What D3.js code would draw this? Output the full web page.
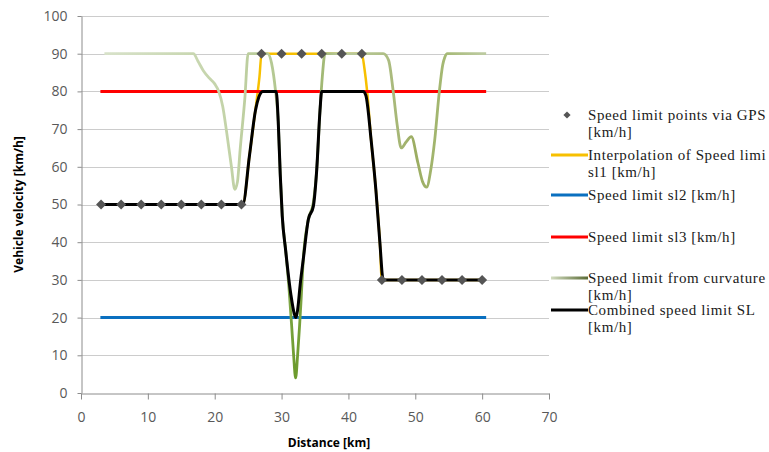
<!DOCTYPE html>
<html>
<head>
<meta charset="utf-8">
<script src="https://cdn.jsdelivr.net/npm/d3@7"></script>
<style>
  body { margin: 0; background: #fff; }
  svg { display: block; }
</style>
</head>
<body>
<div id="chart"></div>
<script>
// speed limit points picked up via GPS
const gpsKm  = [3, 6, 9, 12, 15, 18, 21, 24, 27, 30, 33, 36, 39, 42, 45, 48, 51, 54, 57, 60];
const gpsKmh = [50, 50, 50, 50, 50, 50, 50, 50, 90, 90, 90, 90, 90, 90, 30, 30, 30, 30, 30, 30];

// interpolation of the GPS points (sl1)
const sl1Km  = [3, 24.2, 25.2, 26.3, 26.7, 27, 42, 42.4, 42.8, 43.4, 44.1, 44.7, 45, 60];
const sl1Kmh = [50, 50, 63, 78, 84, 90, 90, 86, 80, 67, 54, 40, 30, 30];

// constant limits sl2 / sl3
const sl2Km  = [2.9, 60.6];
const sl2Kmh = [20, 20];
const sl3Km  = [2.9, 60.6];
const sl3Kmh = [80, 80];

// speed limit from curvature
const curvKm  = [3.5, 16.8, 17.5, 18.3, 19.2, 20, 20.6, 21.2, 21.8, 22.5, 23, 23.4, 23.8, 24.5, 25, 27.9, 28.5, 29.1,
                 29.5, 29.8, 30.1, 30.6, 31.1, 31.5, 31.8, 32.1, 32.4, 32.7, 32.9, 33.25, 34, 34.75, 35.25, 35.75, 36.1, 36.5,
                 45.2, 46, 46.7, 47.3, 47.9, 48.6, 49.4, 50.4, 51.1, 51.7, 52.3, 52.9, 53.6, 54.1, 54.4, 54.8, 60.6];
const curvKmh = [90, 90, 88, 85.5, 83.5, 82, 80, 76, 69, 60, 54, 56, 64.5, 78, 90, 90, 87.5, 80,
                 72, 58, 47, 38, 28, 18, 10, 4, 10, 18, 24, 35.5, 46, 50.5, 59, 75, 84, 90,
                 90, 88.3, 80, 71, 65, 66.5, 68, 61, 56, 54.6, 59, 67, 80, 87, 89, 90, 90];

// combined speed limit SL
const slKm  = [3, 24.2, 25.2, 26.1, 26.6, 27.2, 29.2, 29.5, 29.8, 30.1, 30.6, 31.4, 31.9, 32.15, 32.4, 32.8, 33.25, 34,
               34.75, 35.25, 35.75, 36, 42.2, 42.6, 43.4, 44.1, 44.7, 45.2, 60];
const slKmh = [50, 50, 63, 75, 78.5, 80, 80, 72, 58, 47, 38, 26, 21, 20, 22, 29, 35.5, 46,
               49.5, 59, 75, 80, 80, 79, 67, 54, 40, 30, 30];

const xTicks = [0, 10, 20, 30, 40, 50, 60, 70];
const yTicks = [0, 10, 20, 30, 40, 50, 60, 70, 80, 90, 100];

const legendLabels = [
  ["Speed limit points via GPS", "[km/h]"],
  ["Interpolation of Speed limi", "sl1 [km/h]"],
  ["Speed limit sl2 [km/h]"],
  ["Speed limit sl3 [km/h]"],
  ["Speed limit from curvature", "[km/h]"],
  ["Combined speed limit SL", "[km/h]"]
];

const width = 769, height = 452;

const x = d3.scaleLinear().domain([0, 70]).range([81, 549]);
const y = d3.scaleLinear().domain([0, 100]).range([393, 16]);

const svg = d3.select("#chart")
  .append("svg")
    .attr("width", width)
    .attr("height", height);

svg.append("rect").attr("width", width).attr("height", height).attr("fill", "#fff");

// gradient for the curvature line (pale on the left, dark around the sharp bend)
const defs = svg.append("defs");
const grad = defs.append("linearGradient")
  .attr("id", "curvGrad")
  .attr("gradientUnits", "userSpaceOnUse")
  .attr("x1", x(0)).attr("x2", x(70)).attr("y1", 0).attr("y2", 0);
[[3, "#d8e2ca"], [22, "#c3d3a8"], [29, "#b4c892"], [32, "#6b9a2b"], [35, "#98b266"], [39, "#bccb9e"],
 [45, "#b0c088"], [50, "#9cad62"], [54, "#a4b872"], [60, "#bccaa0"]]
  .forEach(([k, c]) => grad.append("stop").attr("offset", k / 70).attr("stop-color", c));

const legGrad = defs.append("linearGradient").attr("id", "legGrad");
legGrad.append("stop").attr("offset", 0).attr("stop-color", "#d2dcc0");
legGrad.append("stop").attr("offset", 1).attr("stop-color", "#5a6b35");

// horizontal gridlines
svg.append("g")
  .selectAll("line")
  .data(yTicks.filter(d => d > 0))
  .join("line")
    .attr("x1", x(0)).attr("x2", x(70))
    .attr("y1", d => Math.round(y(d)) + 0.5)
    .attr("y2", d => Math.round(y(d)) + 0.5)
    .attr("stroke", "#cccccc");

// axes
const xAxis = svg.append("g")
  .attr("transform", `translate(0,${Math.round(y(0)) + 0.5})`)
  .call(d3.axisBottom(x).tickValues(xTicks).tickSize(6).tickPadding(13).tickSizeOuter(0));
const yAxis = svg.append("g")
  .attr("transform", `translate(${Math.round(x(0)) + 0.5},0)`)
  .call(d3.axisLeft(y).tickValues(yTicks).tickSize(4).tickPadding(10).tickSizeOuter(0));

[xAxis, yAxis].forEach(g => {
  g.select(".domain").attr("stroke", "#8c8c8c");
  g.selectAll(".tick line").attr("stroke", "#8c8c8c");
  g.selectAll(".tick text")
    .attr("fill", "#595959")
    .style("font-family", "'Open Sans', sans-serif")
    .style("font-size", "14px");
});

// axis titles
svg.append("text")
  .attr("x", 329).attr("y", 447)
  .attr("text-anchor", "middle")
  .style("font-family", "'Open Sans', sans-serif")
  .style("font-size", "12px")
  .style("font-weight", "bold")
  .text("Distance [km]");

svg.append("text")
  .attr("transform", `translate(23,${(y(0) + y(100)) / 2}) rotate(-90)`)
  .attr("text-anchor", "middle")
  .style("font-family", "'Open Sans', sans-serif")
  .style("font-size", "12px")
  .style("font-weight", "bold")
  .text("Vehicle velocity [km/h]");

// series lines
const zip = (a, b) => a.map((d, i) => [d, b[i]]);
const line = d3.line()
  .x(d => x(d[0]))
  .y(d => y(d[1]))
  .curve(d3.curveMonotoneX);

const series = [
  { data: zip(sl1Km, sl1Kmh), color: "#f7c000", w: 2.5 },
  { data: zip(sl2Km, sl2Kmh), color: "#0a70c0", w: 3 },
  { data: zip(sl3Km, sl3Kmh), color: "#ff0000", w: 3 },
  { data: zip(curvKm, curvKmh), color: "url(#curvGrad)", w: 2.8 },
  { data: zip(slKm, slKmh), color: "#000000", w: 3 }
];

svg.append("g")
  .selectAll("path")
  .data(series)
  .join("path")
    .attr("d", d => line(d.data))
    .attr("fill", "none")
    .attr("stroke", d => d.color)
    .attr("stroke-width", d => d.w)
    .attr("stroke-linejoin", "round")
    .attr("stroke-linecap", "butt");

// GPS points (diamonds)
const diamond = d3.symbol(d3.symbolSquare, 50);
svg.append("g")
  .selectAll("path")
  .data(zip(gpsKm, gpsKmh))
  .join("path")
    .attr("d", diamond)
    .attr("transform", d => `translate(${x(d[0])},${y(d[1])}) rotate(45)`)
    .attr("fill", "#555555");

// legend
const legY = [115, 155, 195, 237, 278, 310];
const legColors = ["#555555", "#f7c000", "#0a70c0", "#ff0000", "url(#legGrad)", "#000000"];
const leg = svg.append("g")
  .style("font-family", "'Liberation Serif', 'Times New Roman', serif")
  .style("font-size", "15px")
  .style("letter-spacing", "0.6px")
  .attr("fill", "#1a1a1a");

legendLabels.forEach((lines, i) => {
  const cy = legY[i];
  if (i === 0) {
    leg.append("path")
      .attr("d", d3.symbol(d3.symbolSquare, 26))
      .attr("transform", `translate(567,${cy}) rotate(45)`)
      .attr("fill", legColors[i]);
  } else {
    leg.append("rect")
      .attr("x", 551).attr("y", cy - 1.5)
      .attr("width", 37).attr("height", 3)
      .attr("fill", legColors[i]);
  }
  const t = leg.append("text").attr("x", 588).attr("y", cy + 4.5);
  lines.forEach((s, j) => {
    t.append("tspan").attr("x", 588).attr("dy", j === 0 ? 0 : 17.5).text(s);
  });
});
</script>
</body>
</html>
